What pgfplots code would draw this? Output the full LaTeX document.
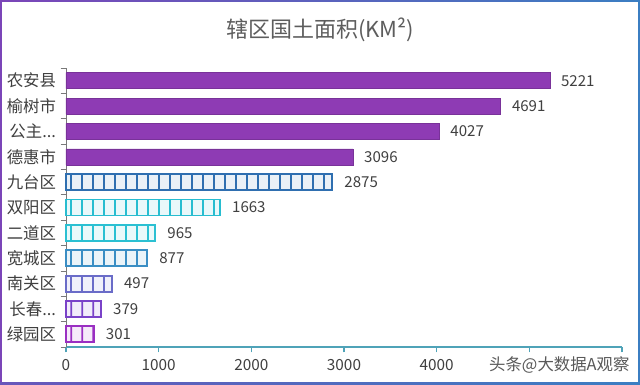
\documentclass[border=0pt]{standalone}
\usepackage{fontspec}
\setmainfont{Noto Sans CJK SC}
\usepackage{pgfplots}
\pgfplotsset{compat=1.18}
\usetikzlibrary{patterns.meta}
\definecolor{solidP}{HTML}{8E3BB4}
\definecolor{cA}{HTML}{2F6FB0}
\definecolor{cB}{HTML}{27BDD0}
\definecolor{cC}{HTML}{2BC0D2}
\definecolor{cD}{HTML}{3A8EC4}
\definecolor{cE}{HTML}{6A6CC8}
\definecolor{cF}{HTML}{7A42C8}
\definecolor{cG}{HTML}{9A2FC2}
\definecolor{txt}{HTML}{404040}
\definecolor{axX}{HTML}{4FA3B8}
\definecolor{frP}{HTML}{7B45B8}
\definecolor{frB}{HTML}{3B7EC2}
\newcommand{\dd}{{.}{.}{.}}
\tikzdeclarepattern{
  name=cells,
  type=uncolored,
  bounding box={(0pt,0pt) and (8.25pt,4pt)},
  tile size={(8.25pt,4pt)},
  code={\draw[line width=1.4pt] (4.125pt,-0.5pt) -- (4.125pt,4.5pt);}
}
\begin{document}
\begin{tikzpicture}
\useasboundingbox (-49.5pt,-28.5pt) rectangle (430.5pt,260.25pt);
\fill[white] (-49.5pt,-28.5pt) rectangle (430.5pt,260.25pt);
\begin{axis}[
  at={(0,0)}, anchor=south west,
  scale only axis, width=417pt, height=209.25pt,
  xbar, bar width=12pt, bar shift=0pt,
  xmin=0, xmax=6000,
  ymin=-0.5, ymax=10.5,
  axis lines*=left,
  x axis line style={draw=axX, line width=0.8pt},
  y axis line style={draw=txt!70, line width=0.6pt},
  xtick={0,1000,2000,3000,4000,5000,6000},
  xticklabels={0,1000,2000,3000,4000,,},
  ytick={0,1,2,3,4,5,6,7,8,9,10},
  yticklabels={绿园区,长春\dd,南关区,宽城区,二道区,双阳区,九台区,德惠市,公主\dd,榆树市,农安县},
  minor ytick={-0.5,0.5,1.5,2.5,3.5,4.5,5.5,6.5,7.5,8.5,9.5,10.5},
  major y tick style={draw=none},
  minor y tick style={draw=txt!70, line width=0.6pt},
  minor tick length=4pt,
  major x tick style={draw=axX, line width=0.8pt},
  major tick length=4pt,
  tick align=outside,
  /pgf/number format/assume math mode=true,
  xticklabel style={font=\fontsize{11.5}{13}\selectfont, text=txt, yshift=-2pt},
  yticklabel style={font=\fontsize{12.3}{14}\selectfont, text=txt, xshift=0pt},
  nodes near coords,
  nodes near coords style={anchor=west, xshift=5pt, font=\fontsize{11.3}{13}\selectfont, text=txt, /pgf/number format/assume math mode=true},
  point meta=explicit symbolic,
  clip=false,
]
\addplot[fill=solidP, draw=solidP!85!black, line width=0.3pt] coordinates {(5221,10)[5221] (4691,9)[4691] (4027,8)[4027] (3096,7)[3096]};
\addplot[draw=cA, line width=1.4pt, fill=cA!10, postaction={pattern={cells}, pattern color=cA}] coordinates {(2875,6)[2875]};
\addplot[draw=cB, line width=1.4pt, fill=cB!10, postaction={pattern={cells}, pattern color=cB}] coordinates {(1663,5)[1663]};
\addplot[draw=cC, line width=1.4pt, fill=cC!10, postaction={pattern={cells}, pattern color=cC}] coordinates {(965,4)[965]};
\addplot[draw=cD, line width=1.4pt, fill=cD!10, postaction={pattern={cells}, pattern color=cD}] coordinates {(877,3)[877]};
\addplot[draw=cE, line width=1.4pt, fill=cE!10, postaction={pattern={cells}, pattern color=cE}] coordinates {(497,2)[497]};
\addplot[draw=cF, line width=1.4pt, fill=cF!10, postaction={pattern={cells}, pattern color=cF}] coordinates {(379,1)[379]};
\addplot[draw=cG, line width=1.4pt, fill=cG!10, postaction={pattern={cells}, pattern color=cG}] coordinates {(301,0)[301]};
\end{axis}
\node[text=txt!85, font=\fontsize{16.5}{19}\selectfont] at (190.5pt,237.75pt) {辖区国土面积(KM²)};
\node[text=black!65, font=\fontsize{12.3}{14}\selectfont] at (370pt,-13.5pt) {头条@大数据A观察};
\draw[frP, line width=1.5pt] (-48.75pt,-27.75pt) -- (-48.75pt,259.5pt);
\shade[left color=frP, right color=frB] (-49.5pt,258.75pt) rectangle (430.5pt,260.25pt);
\draw[frB, line width=1.5pt] (429.75pt,259.5pt) -- (429.75pt,-27.75pt);
\shade[left color=frP!70!frB, right color=frB] (-49.5pt,-28.5pt) rectangle (430.5pt,-27pt);
\end{tikzpicture}
\end{document}
